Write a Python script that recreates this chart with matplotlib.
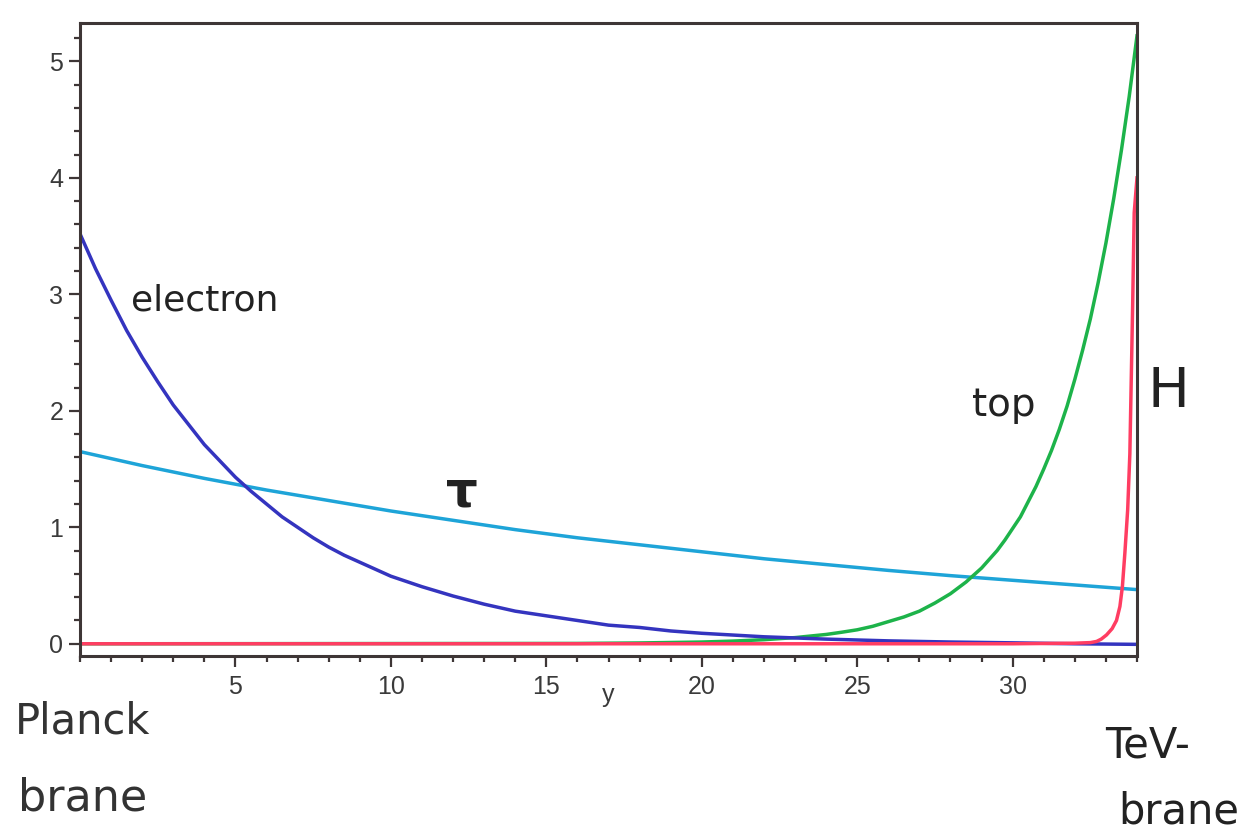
import matplotlib
matplotlib.use("Agg")
import matplotlib.pyplot as plt
from matplotlib.ticker import MultipleLocator

plt.rcParams['font.family'] = ['Liberation Sans', 'DejaVu Sans']

# profiles along the extra dimension y
electron_x = [0, 0.5, 1, 1.5, 2, 2.5, 3, 3.5, 4, 4.5, 5, 5.5, 6, 6.5, 7, 7.5, 8, 8.5,
              9, 9.5, 10, 11, 12, 13, 14, 15, 16, 17, 18, 19, 20, 22, 24, 26, 28, 30,
              32, 34]
electron_y = [3.52, 3.22, 2.95, 2.69, 2.46, 2.25, 2.05, 1.88, 1.71, 1.57, 1.43, 1.31,
              1.20, 1.09, 1.00, 0.91, 0.83, 0.76, 0.70, 0.64, 0.58, 0.49, 0.41, 0.34,
              0.28, 0.24, 0.20, 0.16, 0.14, 0.11, 0.09, 0.06, 0.04, 0.025, 0.015,
              0.008, 0.0, -0.005]

tau_x = [0, 2, 4, 6, 8, 10, 12, 14, 16, 18, 20, 22, 24, 26, 28, 30, 32, 34]
tau_y = [1.65, 1.53, 1.42, 1.32, 1.23, 1.14, 1.06, 0.98, 0.91, 0.85, 0.79, 0.73,
         0.68, 0.63, 0.585, 0.545, 0.505, 0.465]

top_x = [0, 16, 18, 20, 21, 22, 23, 24, 24.5, 25, 25.5, 26, 26.5, 27, 27.5, 28, 28.5,
         29, 29.5, 29.75, 30, 30.25, 30.5, 30.75, 31, 31.25, 31.5, 31.75, 32, 32.25,
         32.5, 32.75, 33, 33.25, 33.5, 33.75, 34]
top_y = [0.0, 0.003, 0.007, 0.015, 0.023, 0.035, 0.053, 0.08, 0.099, 0.12, 0.15,
         0.19, 0.23, 0.28, 0.35, 0.43, 0.53, 0.65, 0.80, 0.89, 0.99, 1.09, 1.22,
         1.35, 1.50, 1.66, 1.84, 2.04, 2.27, 2.52, 2.79, 3.10, 3.44, 3.82, 4.24,
         4.70, 5.22]

higgs_x = [0, 10, 20, 30, 32, 32.5, 32.7, 32.85, 33.02, 33.2, 33.34, 33.45, 33.53,
           33.61, 33.7, 33.77, 33.81, 33.86, 33.91, 34.0]
higgs_y = [0.0, 0.0, 0.0, 0.0, 0.005, 0.01, 0.02, 0.04, 0.076, 0.13, 0.2, 0.32, 0.49,
           0.78, 1.15, 1.63, 2.2, 2.9, 3.7, 4.0]

x_ticks = [5, 10, 15, 20, 25, 30]
y_ticks = [0, 1, 2, 3, 4, 5]

W, H = 1241, 833
fig = plt.figure(figsize=(W / 100, H / 100), dpi=100)
ax = fig.add_axes([80 / W, 1 - 656 / H, (1137 - 80) / W, (656 - 23) / H])

ax.plot(tau_x, tau_y, color='#1ea4d8', lw=2.5)
ax.plot(top_x, top_y, color='#1db34a', lw=2.5)
ax.plot(electron_x, electron_y, color='#3434bf', lw=2.5)
ax.plot(higgs_x, higgs_y, color='#ff3d62', lw=2.5)

ax.set_xlim(0, 34)
ax.set_ylim(-0.105, 5.33)

frame = '#3e3636'
for s in ax.spines.values():
    s.set_color(frame)
    s.set_linewidth(2.2)

ax.set_xticks(x_ticks)
ax.set_yticks(y_ticks)
ax.xaxis.set_minor_locator(MultipleLocator(1))
ax.yaxis.set_minor_locator(MultipleLocator(0.2))
ax.tick_params(which='major', direction='out', length=8, width=1.6, color=frame,
               labelsize=18, labelcolor='#3a3a3a', pad=4)
ax.tick_params(which='minor', direction='out', length=4, width=1.6, color=frame)
ax.tick_params(axis='x', which='major', pad=6)

ax.set_xlabel('y', fontsize=18, color='#3a3a3a')
ax.xaxis.set_label_coords(0.5, -0.042)

hand = dict(color='#222222', fontfamily='DejaVu Sans')
ax.text(4.0, 2.95, 'electron', fontsize=26, ha='center', va='center', **hand)
ax.text(12.3, 1.3, 'τ', fontsize=36, fontweight='bold', ha='center', va='center', **hand)
ax.text(29.7, 2.05, 'top', fontsize=28, ha='center', va='center', **hand)

fig.text(1168 / W, 1 - 392 / H, 'H', fontsize=40, ha='center', va='center', **hand)
fig.text(15 / W, 1 - 722 / H, 'Planck', fontsize=30, ha='left', va='center',
         color='#333333', fontfamily='DejaVu Sans')
fig.text(18 / W, 1 - 798 / H, 'brane', fontsize=32, ha='left', va='center',
         color='#333333', fontfamily='DejaVu Sans')
fig.text(1105 / W, 1 - 745 / H, 'TeV-', fontsize=30, ha='left', va='center', **hand)
fig.text(1118 / W, 1 - 812 / H, 'brane', fontsize=30, ha='left', va='center', **hand)

fig.savefig('out.png', dpi=100, facecolor='white')
